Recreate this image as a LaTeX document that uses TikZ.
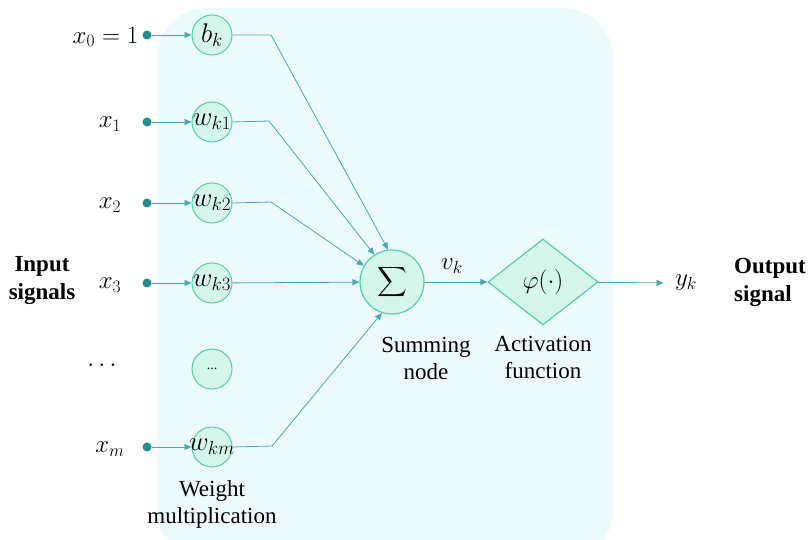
\RequirePackage{fix-cm}
\documentclass[tikz,border=0pt]{standalone}
\usepackage{amsmath}
\usepackage{fontspec}
\setmainfont{Liberation Serif}
\usetikzlibrary{shapes.geometric,arrows.meta}
\definecolor{bgc}{HTML}{ECFAFB}
\definecolor{wire}{HTML}{4AA8B2}
\definecolor{dotc}{HTML}{1E8F96}
\definecolor{ringc}{HTML}{52D0AA}
\definecolor{cellc}{HTML}{D4F6EB}
% weight text may overhang its circle, so it is set with no width
\newcommand{\wtext}[1]{\makebox[0pt]{#1}}
\begin{document}
\begin{tikzpicture}[x=1pt,y=-1pt,
  every node/.style={font=\fontsize{25}{28}\selectfont},
  dotnode/.style={circle,fill=dotc,inner sep=0,minimum size=9},
  wnode/.style={circle,draw=ringc,fill=cellc,line width=1pt,inner sep=0,minimum size=40,font=\fontsize{27}{30}\selectfont},
  sumnode/.style={circle,draw=ringc,fill=cellc,line width=1.2pt,inner sep=0,minimum size=64},
  actnode/.style={diamond,draw=ringc,fill=cellc,line width=1.2pt,inner sep=0,aspect=1.28,minimum width=110,minimum height=86},
  wire/.style={draw=wire,line width=0.8pt},
  arr/.style={wire,-{Triangle[length=7pt,width=6pt]}},
  caption/.style={align=center,font=\fontsize{23}{27}\selectfont},
  heading/.style={font=\fontsize{23}{28}\selectfont\bfseries}]
\useasboundingbox (0,0) rectangle (809,540);
% shaded panel behind the neuron
\fill[bgc,rounded corners=50] (157,8) rectangle (613,560);

% input dots and weight cells
\node[dotnode] (d0) at (147,35) {};
\node[dotnode] (d1) at (147,122) {};
\node[dotnode] (d2) at (147,203) {};
\node[dotnode] (d3) at (147,283) {};
\node[dotnode] (dm) at (147,447) {};

\node[wnode] (b)  at (212,35)  {\wtext{$b_k$}};
\node[wnode] (w1) at (212,122) {\wtext{$w_{k1}$}};
\node[wnode] (w2) at (212,203) {\wtext{$w_{k2}$}};
\node[wnode] (w3) at (212,283) {\wtext{$w_{k3}$}};
\node[wnode,font=\fontsize{14}{16}\selectfont] (wd) at (212,369) {...};
\node[wnode] (wm) at (212,447) {\wtext{$w_{km}$}};

% input labels
\node[anchor=east] (x0) at (142,37) {$x_0=1$};
\node (x1) at (110,124) {$x_1$};
\node (x2) at (110,205) {$x_2$};
\node (x3) at (110,285) {$x_3$};
\node (xd) at (104,366) {$\cdots$};
\node (xm) at (110,449) {$x_m$};

\node[heading,align=center] (inp) at (42,281) {Input\\signals};
\node[heading,align=left] (outp) at (770,282) {Output\\signal};

% summing node and activation
\node[sumnode,font=\fontsize{21}{24}\selectfont] (s) at (392,282) {$\displaystyle\sum$};
\node[actnode] (a) at (543,282) {$\varphi(\cdot)$};
\node (y) at (686,283) {$y_k$};
\node (vk) at (452,266) {$v_k$};

\node[caption] (sl) at (426,358) {Summing\\node};
\node[caption] (al) at (543,357) {Activation\\function};
\node[caption] (wl) at (212,504) {Weight\\multiplication};

% bend points of the weighted wires
\coordinate (k0) at (271,35);
\coordinate (k1) at (269,121);
\coordinate (k2) at (271,202);
\coordinate (km) at (272,446);

% wires
\draw[arr] (d0) -- (b);
\draw[arr] (d1) -- (w1);
\draw[arr] (d2) -- (w2);
\draw[arr] (d3) -- (w3);
\draw[arr] (dm) -- (wm);

\draw[arr] (b.east) -- (k0) -- (s.97);
\draw[arr] (w1.east) -- (k1) -- (s.123);
\draw[arr] (w2.east) -- (k2) -- (s.150);
\draw[arr] (w3) -- (s);
\draw[arr] (wm.east) -- (km) -- (s.252);
\draw[arr] (s) -- (a);
\draw[arr,shorten >=8pt] (a) -- (y);
\end{tikzpicture}
\end{document}
